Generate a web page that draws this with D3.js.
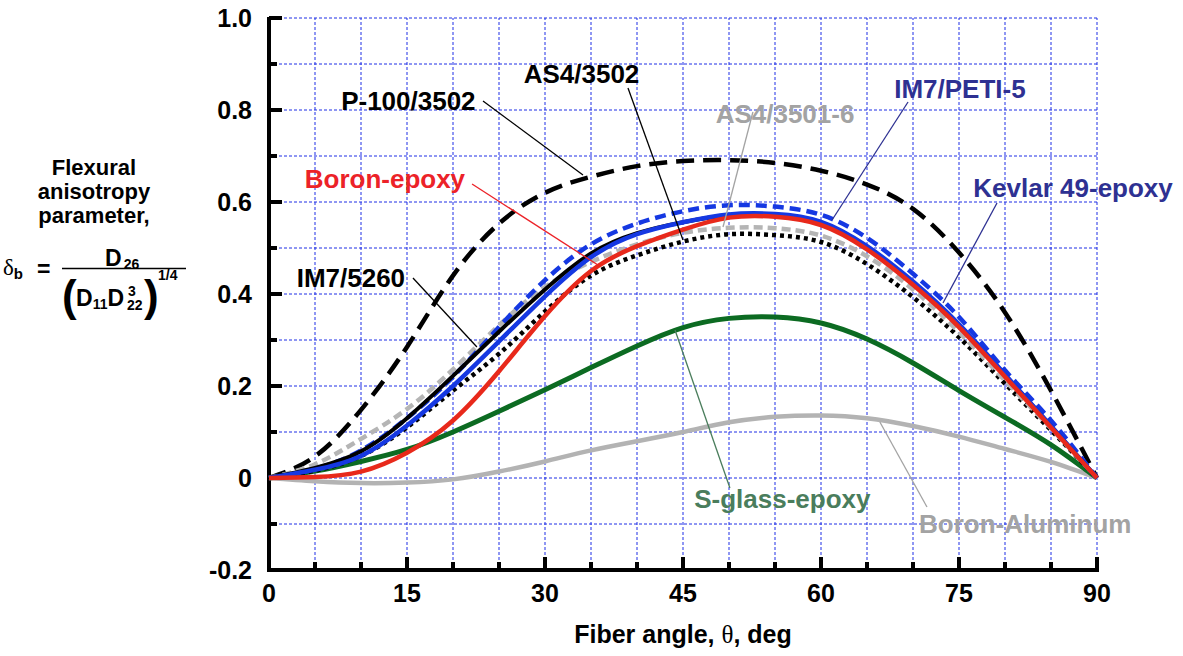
<!DOCTYPE html>
<html><head><meta charset="utf-8">
<script src="https://cdn.jsdelivr.net/npm/d3@7"></script>
<style>
html,body{margin:0;padding:0;background:#fff;}
svg text{font-family:"Liberation Sans",Arial,Helvetica,sans-serif;font-weight:bold;}
</style></head>
<body><svg id="chart" width="1183" height="656"></svg>
<script>
// ---------- data ----------
const angles = [0,5,10,15,20,25,30,35,40,45,50,55,60,65,70,75,80,85,90];
const p100_3502   = [0,0.047,0.148,0.285,0.44,0.553,0.62,0.655,0.678,0.689,0.691,0.685,0.668,0.638,0.585,0.49,0.36,0.19,0];
const as4_3502    = [0,0.016,0.048,0.11,0.19,0.27,0.362,0.44,0.484,0.514,0.53,0.528,0.513,0.465,0.393,0.306,0.205,0.104,0];
const as4_3501_6  = [0,0.03,0.085,0.15,0.236,0.332,0.415,0.47,0.508,0.533,0.544,0.543,0.527,0.482,0.41,0.317,0.212,0.108,0];
const im7_peti5   = [0,0.02,0.06,0.13,0.22,0.328,0.43,0.508,0.553,0.58,0.593,0.59,0.572,0.522,0.444,0.35,0.234,0.125,0];
const im7_5260    = [0,0.022,0.058,0.13,0.222,0.318,0.41,0.488,0.532,0.556,0.571,0.572,0.555,0.502,0.424,0.332,0.224,0.113,0];
const kevlar49    = [0,0.018,0.048,0.114,0.2,0.297,0.395,0.48,0.53,0.556,0.573,0.574,0.557,0.504,0.427,0.334,0.225,0.113,0];
const boronEpoxy  = [0,0.002,0.014,0.055,0.125,0.232,0.352,0.45,0.504,0.54,0.566,0.568,0.55,0.497,0.42,0.328,0.22,0.11,0];
const sglassEpoxy = [0,0.015,0.036,0.062,0.1,0.145,0.192,0.24,0.287,0.327,0.347,0.35,0.337,0.302,0.25,0.19,0.132,0.072,0];
const boronAl     = [0,-0.007,-0.011,-0.01,-0.003,0.014,0.036,0.06,0.08,0.1,0.121,0.133,0.136,0.13,0.113,0.09,0.063,0.035,0];

const xTickLabels = ["0","15","30","45","60","75","90"];
const yTickLabels = ["-0.2","0","0.2","0.4","0.6","0.8","1.0"];

// ---------- styles (drawing order) ----------
const series = [
  {name:"Boron-Aluminum", values:boronAl, color:"#b3b3b3", width:4.5, dash:null},
  {name:"S-glass-epoxy", values:sglassEpoxy, color:"#0c6b22", width:5, dash:null},
  {name:"P-100/3502", values:p100_3502, color:"#000", width:4.5, dash:"18,9"},
  {name:"AS4/3502", values:as4_3502, color:"#000", width:4.5, dash:"4,4"},
  {name:"AS4/3501-6", values:as4_3501_6, color:"#b5b5b5", width:4.5, dash:"9,5"},
  {name:"IM7/PETI-5", values:im7_peti5, color:"#1538e2", width:4.5, dash:"11,6"},
  {name:"IM7/5260", values:im7_5260, color:"#000", width:4, dash:null},
  {name:"Kevlar 49-epoxy", values:kevlar49, color:"#1538e2", width:4.5, dash:null},
  {name:"Boron-epoxy", values:boronEpoxy, color:"#e8291b", width:4.5, dash:null}
];

// label annotations in data coordinates
const labels = [
  {text:"P-100/3502", color:"#000", lead:"#000", x:15.15, y:0.8, l:[[23.26,0.8196],[34.13,0.6587]]},
  {text:"AS4/3502", color:"#000", lead:"#000", x:33.97, y:0.8587, l:[[39.02,0.8478],[45.0,0.5174]]},
  {text:"AS4/3501-6", color:"#a3a3a3", lead:"#a3a3a3", x:56.09, y:0.7717, l:[[52.6,0.7957],[49.35,0.5457]]},
  {text:"IM7/PETI-5", color:"#2e3192", lead:"#2e3192", x:75.1, y:0.8261, l:[[69.46,0.8174],[61.2,0.5609]]},
  {text:"Kevlar 49-epoxy", color:"#2e3192", lead:"#2e3192", x:87.4, y:0.6109, l:[[79.13,0.5978],[73.26,0.3804]]},
  {text:"Boron-epoxy", color:"#ec2228", lead:"#ec2228", x:12.6, y:0.6304, l:[[22.07,0.6391],[35.76,0.463]]},
  {text:"IM7/5260", color:"#000", lead:"#000", x:8.9, y:0.4152, l:[[15.65,0.4348],[22.6,0.2848]]},
  {text:"S-glass-epoxy", color:"#4a7d5c", lead:"#4a7d5c", x:55.8, y:-0.0652, l:[[50.1,-0.0217],[44.13,0.3217]]},
  {text:"Boron-Aluminum", color:"#a3a3a3", lead:"#a3a3a3", x:82.2, y:-0.1196, l:[[71.52,-0.063],[66.4,0.1217]]}
];

// ---------- chart ----------
const svg = d3.select("#chart");
const x = d3.scaleLinear().domain([0,90]).range([269,1097]);
const y = d3.scaleLinear().domain([-0.2,1.0]).range([570,18]);

// grid
const g = svg.append("g");
g.selectAll(".vg").data(d3.range(5,91,5)).join("line")
  .attr("x1",d=>x(d)).attr("x2",d=>x(d)).attr("y1",y(-0.2)).attr("y2",y(1.0))
  .attr("stroke","#1f2ee6").attr("stroke-width",1).attr("stroke-dasharray","3,2");
g.selectAll(".hg").data(d3.range(-1,11).map(d=>d/10)).join("line")
  .attr("x1",x(0)).attr("x2",x(90)).attr("y1",d=>y(d)).attr("y2",d=>y(d))
  .attr("stroke","#1f2ee6").attr("stroke-width",1).attr("stroke-dasharray","3,2");

// axes & ticks
const ax = svg.append("g");
ax.selectAll(".yt").data(d3.range(-1,11).map(d=>d/10)).join("line")
  .attr("x1",x(0)).attr("x2",d=> (Math.round(d*10)%2===0)? x(0)+13 : x(0)+8)
  .attr("y1",d=>y(d)).attr("y2",d=>y(d)).attr("stroke","#000").attr("stroke-width",4);
ax.selectAll(".xt").data(d3.range(5,91,5)).join("line")
  .attr("x1",d=>x(d)).attr("x2",d=>x(d)).attr("y1",y(-0.2))
  .attr("y2",d=> (d%15===0)? y(-0.2)-13 : y(-0.2)-8).attr("stroke","#000").attr("stroke-width",4);
ax.append("line").attr("x1",x(0)).attr("x2",x(0)).attr("y1",y(1.0)-1).attr("y2",y(-0.2)+2).attr("stroke","#000").attr("stroke-width",4);
ax.append("line").attr("x1",x(0)-2).attr("x2",x(90)+2).attr("y1",y(-0.2)).attr("y2",y(-0.2)).attr("stroke","#000").attr("stroke-width",4);

// tick labels
ax.selectAll(".ytl").data(yTickLabels).join("text")
  .attr("x",252).attr("y",d=>y(+d)).attr("dy","0.36em").attr("text-anchor","end")
  .attr("font-size",25).text(d=>d);
ax.selectAll(".xtl").data(xTickLabels).join("text")
  .attr("x",d=>x(+d)).attr("y",602).attr("text-anchor","middle")
  .attr("font-size",25).text(d=>d);

// axis title
const xt = svg.append("text").attr("x",683).attr("y",643).attr("text-anchor","middle").attr("font-size",25);
xt.append("tspan").text("Fiber angle, ");
xt.append("tspan").attr("font-family","'Liberation Serif','DejaVu Serif',serif").attr("font-weight","normal").text("θ");
xt.append("tspan").text(", deg");

// y title
[["Flexural",175],["anisotropy",199],["parameter,",223]].forEach(([t,yy])=>{
  svg.append("text").attr("x",94).attr("y",yy).attr("text-anchor","middle").attr("font-size",22).text(t);
});
// formula
const f = svg.append("g");
const delta = f.append("text").attr("x",3).attr("y",275).attr("font-size",23);
delta.append("tspan").attr("font-family","'Liberation Serif','DejaVu Serif',serif").attr("font-weight","normal").text("δ");
delta.append("tspan").attr("font-size",15).attr("dy",4).text("b");
f.append("text").attr("x",37).attr("y",277).attr("font-size",23).text("=");
f.append("line").attr("x1",62).attr("x2",186).attr("y1",268.5).attr("y2",268.5).attr("stroke","#000").attr("stroke-width",1.5);
const num = f.append("text").attr("x",105).attr("y",266).attr("font-size",23);
num.append("tspan").text("D");
num.append("tspan").attr("font-size",14).attr("dy",3).attr("dx",2).text("26");
f.append("text").attr("x",62).attr("y",311).attr("font-size",44).attr("font-weight","normal").text("(");
f.append("text").attr("x",144).attr("y",311).attr("font-size",44).attr("font-weight","normal").text(")");
const den = f.append("text").attr("x",76).attr("y",306).attr("font-size",23);
den.append("tspan").text("D");
den.append("tspan").attr("font-size",14).attr("dy",3).text("11");
den.append("tspan").attr("dy",-3).text("D");
f.append("text").attr("x",128).attr("y",296).attr("font-size",14).text("3");
f.append("text").attr("x",127).attr("y",310).attr("font-size",14).text("22");
f.append("text").attr("x",158).attr("y",280).attr("font-size",14).text("1/4");

// curves
const line = d3.line().x(d=>x(d[0])).y(d=>y(d[1])).curve(d3.curveNatural);
svg.append("g").selectAll("path").data(series).join("path")
  .attr("d",s=>line(angles.map((a,i)=>[a,s.values[i]])))
  .attr("fill","none").attr("stroke",s=>s.color).attr("stroke-width",s=>s.width)
  .attr("stroke-dasharray",s=>s.dash).attr("stroke-linejoin","round");

// labels & leaders
const lg = svg.append("g");
labels.forEach(L=>{
  lg.append("line").attr("x1",x(L.l[0][0])).attr("y1",y(L.l[0][1]))
    .attr("x2",x(L.l[1][0])).attr("y2",y(L.l[1][1])).attr("stroke",L.lead).attr("stroke-width",1.3);
  lg.append("text").attr("x",x(L.x)).attr("y",y(L.y)).attr("text-anchor","middle")
    .attr("font-size",26).attr("fill",L.color).text(L.text);
});
</script></body></html>
